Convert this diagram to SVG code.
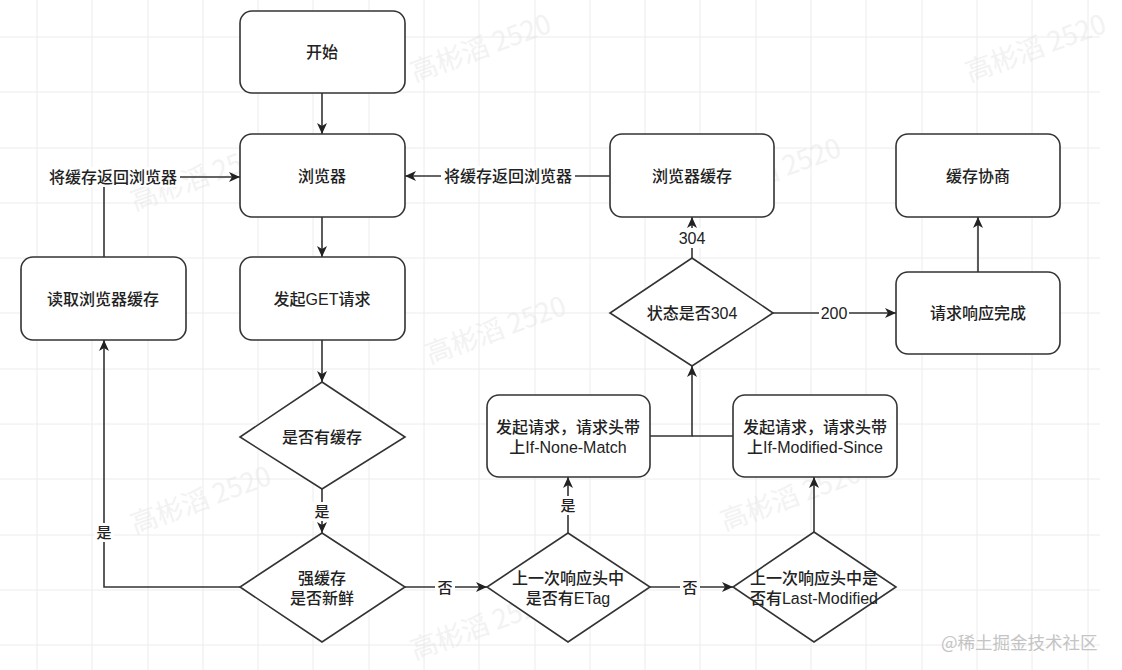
<svg xmlns="http://www.w3.org/2000/svg" width="1122" height="670" viewBox="0 0 1122 670">
<style>
.grid line{stroke:#ececec;stroke-width:1}
.node{fill:#ffffff;stroke:#333333;stroke-width:1.6}
.t{font-family:"Liberation Sans","Noto Sans CJK SC",sans-serif;font-size:16px;font-weight:500;fill:#222222;text-anchor:middle;dominant-baseline:central}
.lbl{font-family:"Liberation Sans","Noto Sans CJK SC",sans-serif;font-size:15px;font-weight:500;fill:#222222;text-anchor:middle;dominant-baseline:central}
.lblbg{fill:#ffffff}
.edge{fill:none;stroke:#333333;stroke-width:1.6}
.wm{font-family:"Noto Sans CJK SC",sans-serif;font-size:27px;fill:#e4e4e4;opacity:0.45;text-anchor:middle;dominant-baseline:central}
.wm2{font-family:"Noto Sans CJK SC",sans-serif;font-size:17.5px;fill:#c4c4c4;text-anchor:start;dominant-baseline:central}
</style>
<defs>
<marker id="arr" markerUnits="userSpaceOnUse" markerWidth="11" markerHeight="10" refX="11" refY="5" orient="auto">
<path d="M0,0 L11,5 L0,10 L3,5 z" fill="#222222"/>
</marker>
</defs>
<rect x="0" y="0" width="1122" height="670" fill="#ffffff"/>
<g class="grid" id="grid">
<line x1="37" y1="0" x2="37" y2="670"/><line x1="92" y1="0" x2="92" y2="670"/><line x1="148" y1="0" x2="148" y2="670"/><line x1="203" y1="0" x2="203" y2="670"/><line x1="258" y1="0" x2="258" y2="670"/><line x1="313" y1="0" x2="313" y2="670"/><line x1="369" y1="0" x2="369" y2="670"/><line x1="424" y1="0" x2="424" y2="670"/><line x1="479" y1="0" x2="479" y2="670"/><line x1="535" y1="0" x2="535" y2="670"/><line x1="590" y1="0" x2="590" y2="670"/><line x1="645" y1="0" x2="645" y2="670"/><line x1="700" y1="0" x2="700" y2="670"/><line x1="756" y1="0" x2="756" y2="670"/><line x1="811" y1="0" x2="811" y2="670"/><line x1="866" y1="0" x2="866" y2="670"/><line x1="922" y1="0" x2="922" y2="670"/><line x1="977" y1="0" x2="977" y2="670"/><line x1="1032" y1="0" x2="1032" y2="670"/><line x1="1088" y1="0" x2="1088" y2="670"/>
<line x1="0" y1="37" x2="1100" y2="37"/><line x1="0" y1="92" x2="1100" y2="92"/><line x1="0" y1="148" x2="1100" y2="148"/><line x1="0" y1="203" x2="1100" y2="203"/><line x1="0" y1="258" x2="1100" y2="258"/><line x1="0" y1="313" x2="1100" y2="313"/><line x1="0" y1="369" x2="1100" y2="369"/><line x1="0" y1="424" x2="1100" y2="424"/><line x1="0" y1="479" x2="1100" y2="479"/><line x1="0" y1="535" x2="1100" y2="535"/><line x1="0" y1="590" x2="1100" y2="590"/><line x1="0" y1="645" x2="1100" y2="645"/>
</g>
<g id="watermarks">
<text class="wm" transform="translate(480,46) rotate(-20)">高彬滔 2520</text>
<text class="wm" transform="translate(200,175) rotate(-20)">高彬滔 2520</text>
<text class="wm" transform="translate(770,170) rotate(-20)">高彬滔 2520</text>
<text class="wm" transform="translate(1035,46) rotate(-20)">高彬滔 2520</text>
<text class="wm" transform="translate(495,328) rotate(-20)">高彬滔 2520</text>
<text class="wm" transform="translate(200,498) rotate(-20)">高彬滔 2520</text>
<text class="wm" transform="translate(790,495) rotate(-20)">高彬滔 2520</text>
<text class="wm" transform="translate(480,624) rotate(-20)">高彬滔 2520</text>
</g>
<g id="connectors">
<path class="edge" d="M322,93 L322,134" marker-end="url(#arr)"/>
<path class="edge" d="M322,217 L322,257" marker-end="url(#arr)"/>
<path class="edge" d="M322,340 L322,382" marker-end="url(#arr)"/>
<path class="edge" d="M322,489 L322,533" marker-end="url(#arr)"/>
<path class="edge" d="M240,587 L104,587 L104,340" marker-end="url(#arr)"/>
<path class="edge" d="M104,257 L104,177 L240,177" marker-end="url(#arr)"/>
<path class="edge" d="M405,587 L487,587" marker-end="url(#arr)"/>
<path class="edge" d="M568,533 L568,477" marker-end="url(#arr)"/>
<path class="edge" d="M650,587 L733,587" marker-end="url(#arr)"/>
<path class="edge" d="M814,532 L814,477" marker-end="url(#arr)"/>
<path class="edge" d="M650,436 L692,436 L692,366" marker-end="url(#arr)"/>
<path class="edge" d="M733,436 L692,436"/>
<path class="edge" d="M692,258 L692,217" marker-end="url(#arr)"/>
<path class="edge" d="M773,313 L896,313" marker-end="url(#arr)"/>
<path class="edge" d="M978,272 L978,217" marker-end="url(#arr)"/>
<path class="edge" d="M610,176 L405,176" marker-end="url(#arr)"/>
<rect class="lblbg" x="312" y="502" width="20" height="19"/><text class="lbl" x="322" y="511">是</text>
<rect class="lblbg" x="94" y="523" width="20" height="19"/><text class="lbl" x="104" y="532">是</text>
<rect class="lblbg" x="46" y="167" width="134" height="20"/><text class="t" x="113" y="177">将缓存返回浏览器</text>
<rect class="lblbg" x="435" y="578" width="20" height="19"/><text class="lbl" x="445" y="587">否</text>
<rect class="lblbg" x="558" y="496" width="20" height="19"/><text class="lbl" x="568" y="505">是</text>
<rect class="lblbg" x="680" y="578" width="20" height="19"/><text class="lbl" x="690" y="587">否</text>
<rect class="lblbg" x="677" y="228" width="30" height="20"/><text class="t" x="692" y="238">304</text>
<rect class="lblbg" x="819" y="303" width="30" height="20"/><text class="t" x="834" y="313">200</text>
<rect class="lblbg" x="441" y="166" width="134" height="20"/><text class="t" x="508" y="176">将缓存返回浏览器</text>
</g>
<g id="start"><rect class="node" x="240" y="11" width="165" height="82" rx="12"/><text class="t" x="322" y="52">开始</text></g>
<g id="browser"><rect class="node" x="240" y="134" width="165" height="83" rx="12"/><text class="t" x="322" y="176">浏览器</text></g>
<g id="get"><rect class="node" x="240" y="257" width="165" height="83" rx="12"/><text class="t" x="322" y="299">发起GET请求</text></g>
<g id="readcache"><rect class="node" x="21" y="257" width="165" height="83" rx="12"/><text class="t" x="103" y="299">读取浏览器缓存</text></g>
<g id="hascache"><polygon class="node" points="322,382 405,437 322,489 240,437"/><text class="t" x="322" y="437">是否有缓存</text></g>
<g id="fresh"><polygon class="node" points="322,533 405,587 322,642 240,587"/><text class="t" x="322" y="578">强缓存</text><text class="t" x="322" y="598">是否新鲜</text></g>
<g id="etag"><polygon class="node" points="568,533 650,587 568,642 487,587"/><text class="t" x="568" y="578">上一次响应头中</text><text class="t" x="568" y="598">是否有ETag</text></g>
<g id="lastmod"><polygon class="node" points="814,532 896,587 814,642 733,587"/><text class="t" x="814" y="578">上一次响应头中是</text><text class="t" x="814" y="598">否有Last-Modified</text></g>
<g id="inm"><rect class="node" x="487" y="395" width="163" height="82" rx="12"/><text class="t" x="568" y="427">发起请求，请求头带</text><text class="t" x="568" y="447">上If-None-Match</text></g>
<g id="ims"><rect class="node" x="733" y="395" width="164" height="82" rx="12"/><text class="t" x="815" y="427">发起请求，请求头带</text><text class="t" x="815" y="447">上If-Modified-Since</text></g>
<g id="is304"><polygon class="node" points="692,258 773,313 692,366 610,313"/><text class="t" x="692" y="313">状态是否304</text></g>
<g id="bcache"><rect class="node" x="610" y="134" width="164" height="83" rx="12"/><text class="t" x="692" y="176">浏览器缓存</text></g>
<g id="negotiate"><rect class="node" x="896" y="134" width="164" height="83" rx="12"/><text class="t" x="978" y="176">缓存协商</text></g>
<g id="done"><rect class="node" x="896" y="272" width="164" height="82" rx="12"/><text class="t" x="978" y="313">请求响应完成</text></g>
<text class="wm2" x="941" y="641">@稀土掘金技术社区</text>
</svg>
